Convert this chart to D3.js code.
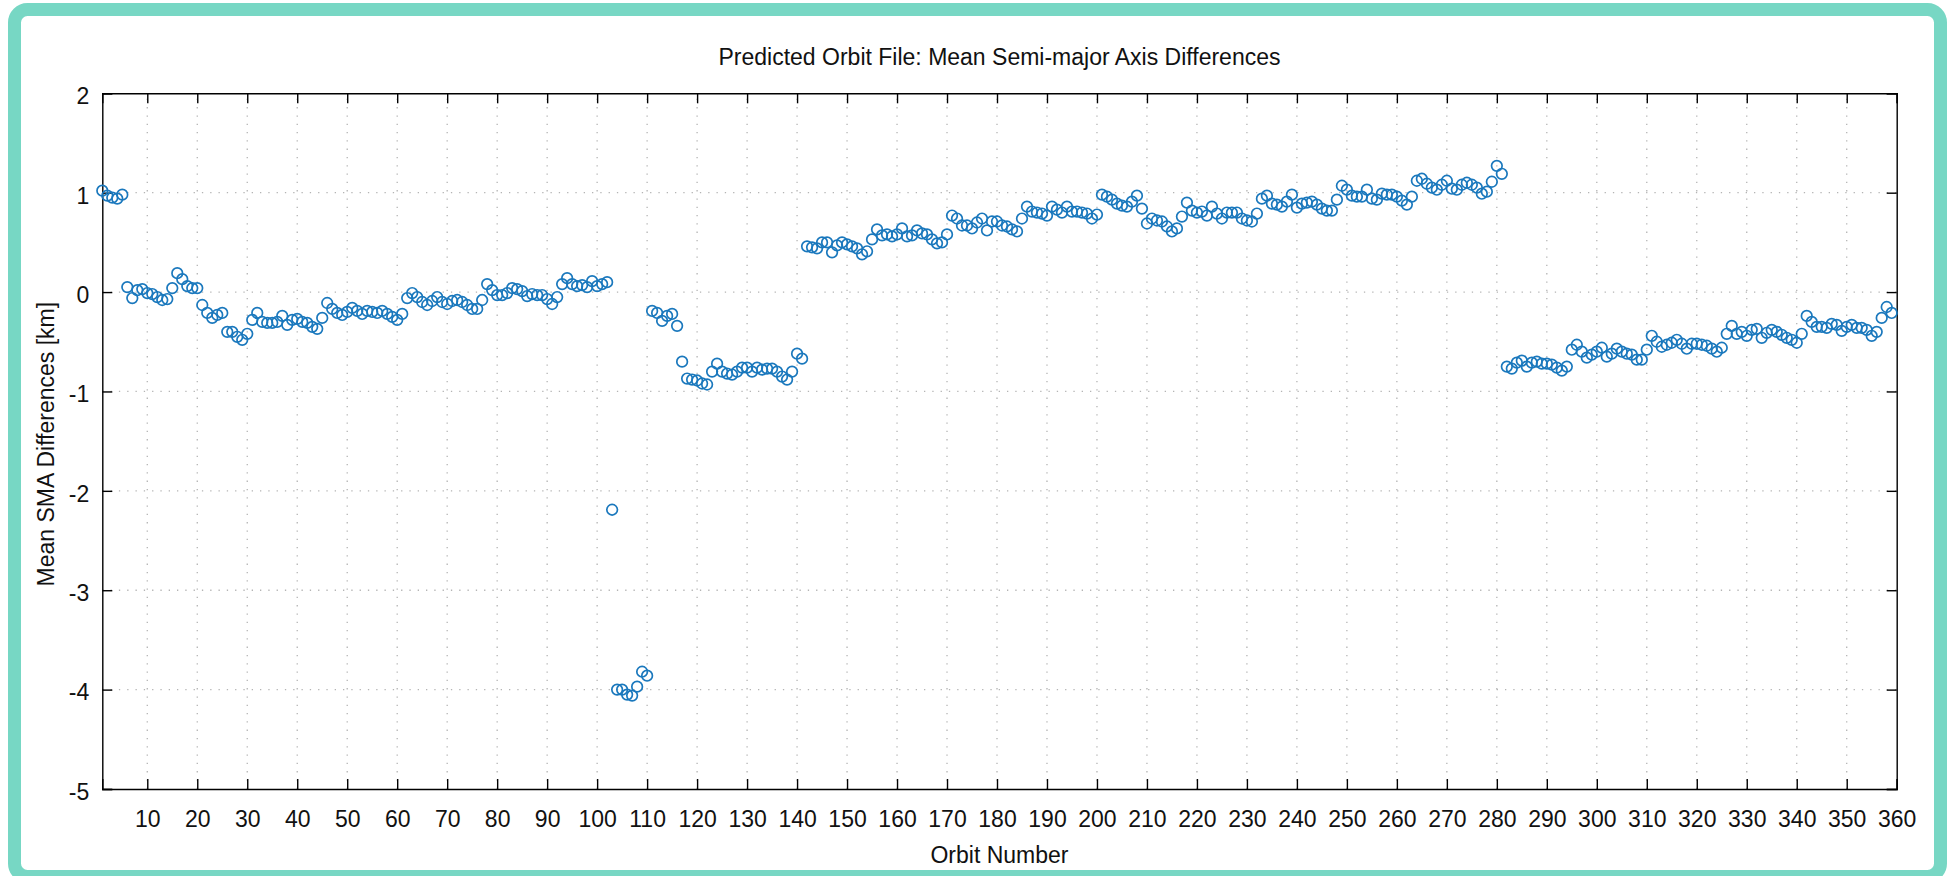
<!DOCTYPE html>
<html>
<head>
<meta charset="utf-8">
<script src="https://cdn.jsdelivr.net/npm/d3@7"></script>
<style>
  html, body { margin: 0; padding: 0; background: #ffffff; }
  svg { display: block; }
  text { font-family: "Liberation Sans", Arial, Helvetica, sans-serif; fill: #111; }
</style>
</head>
<body>
<svg id="chart" width="1949" height="876"></svg>
<script>
// ---- Data ----
const titleText = "Predicted Orbit File: Mean Semi-major Axis Differences";
const xLabelText = "Orbit Number";
const yLabelText = "Mean SMA Differences [km]";

const xTickValues = [10, 20, 30, 40, 50, 60, 70, 80, 90, 100, 110, 120, 130, 140, 150, 160, 170, 180, 190, 200, 210, 220, 230, 240, 250, 260, 270, 280, 290, 300, 310, 320, 330, 340, 350, 360];
const yTickValues = [-5, -4, -3, -2, -1, 0, 1, 2];

// Mean SMA differences [km] per orbit, in consecutive orbit groups
const orbits001to005 = [1.02, 0.97, 0.95, 0.94, 0.98];
const orbits006to102 = [
  0.05, -0.06, 0.02, 0.03, -0.01, -0.02, -0.05, -0.08, -0.07, 0.04,
  0.19, 0.13, 0.06, 0.04, 0.04, -0.13, -0.21, -0.26, -0.23, -0.21,
  -0.40, -0.40, -0.45, -0.48, -0.42, -0.28, -0.21, -0.30, -0.31, -0.31,
  -0.30, -0.24, -0.33, -0.28, -0.27, -0.30, -0.31, -0.35, -0.37, -0.26,
  -0.11, -0.17, -0.21, -0.23, -0.20, -0.16, -0.19, -0.22, -0.19, -0.20,
  -0.21, -0.19, -0.22, -0.25, -0.28, -0.22, -0.06, -0.01, -0.05, -0.10,
  -0.13, -0.09, -0.05, -0.10, -0.12, -0.09, -0.08, -0.10, -0.13, -0.17,
  -0.17, -0.08, 0.08, 0.02, -0.03, -0.03, -0.01, 0.04, 0.03, 0.01,
  -0.04, -0.02, -0.03, -0.03, -0.07, -0.12, -0.05, 0.08, 0.14, 0.08,
  0.06, 0.07, 0.05, 0.11, 0.06, 0.08, 0.10
];
const orbits103to110 = [-2.19, -4.00, -4.00, -4.05, -4.06, -3.97, -3.82, -3.86];
const orbits111to116 = [-0.19, -0.21, -0.29, -0.24, -0.22, -0.34];
const orbits117to141 = [
  -0.70, -0.87, -0.88, -0.89, -0.92, -0.93, -0.80, -0.72, -0.80, -0.82,
  -0.83, -0.80, -0.76, -0.76, -0.80, -0.76, -0.78, -0.77, -0.77, -0.80,
  -0.85, -0.88, -0.80, -0.62, -0.67
];
const orbits142to281 = [
  0.46, 0.45, 0.44, 0.50, 0.50, 0.40, 0.47, 0.50, 0.48, 0.46,
  0.44, 0.38, 0.41, 0.53, 0.63, 0.57, 0.58, 0.56, 0.58, 0.64,
  0.56, 0.57, 0.62, 0.59, 0.58, 0.53, 0.49, 0.50, 0.58, 0.77,
  0.74, 0.67, 0.67, 0.64, 0.70, 0.74, 0.62, 0.71, 0.71, 0.67,
  0.66, 0.63, 0.61, 0.74, 0.86, 0.81, 0.80, 0.79, 0.77, 0.86,
  0.83, 0.80, 0.86, 0.81, 0.81, 0.80, 0.79, 0.74, 0.78, 0.98,
  0.96, 0.93, 0.89, 0.87, 0.86, 0.91, 0.97, 0.84, 0.69, 0.74,
  0.72, 0.71, 0.66, 0.61, 0.64, 0.76, 0.90, 0.82, 0.80, 0.81,
  0.77, 0.86, 0.79, 0.74, 0.80, 0.80, 0.80, 0.74, 0.72, 0.71,
  0.79, 0.94, 0.97, 0.89, 0.88, 0.86, 0.91, 0.98, 0.85, 0.89,
  0.90, 0.91, 0.88, 0.84, 0.82, 0.82, 0.93, 1.07, 1.03, 0.97,
  0.96, 0.96, 1.03, 0.94, 0.93, 0.99, 0.98, 0.98, 0.96, 0.92,
  0.88, 0.96, 1.12, 1.14, 1.09, 1.05, 1.03, 1.08, 1.12, 1.04,
  1.03, 1.08, 1.10, 1.08, 1.05, 0.99, 1.01, 1.11, 1.27, 1.19
];
const orbits282to359 = [
  -0.75, -0.77, -0.71, -0.69, -0.75, -0.71, -0.70, -0.72, -0.72, -0.73,
  -0.76, -0.79, -0.75, -0.58, -0.53, -0.60, -0.66, -0.63, -0.60, -0.56,
  -0.65, -0.62, -0.57, -0.60, -0.62, -0.63, -0.68, -0.68, -0.58, -0.44,
  -0.50, -0.55, -0.53, -0.51, -0.48, -0.52, -0.57, -0.52, -0.52, -0.53,
  -0.54, -0.57, -0.60, -0.56, -0.42, -0.34, -0.42, -0.40, -0.44, -0.38,
  -0.37, -0.46, -0.41, -0.38, -0.40, -0.43, -0.46, -0.48, -0.51, -0.42,
  -0.24, -0.30, -0.35, -0.35, -0.36, -0.32, -0.33, -0.39, -0.35, -0.33,
  -0.36, -0.36, -0.38, -0.44, -0.40, -0.26, -0.15, -0.21
];
const firstOrbit = 1;

const smaValues = [].concat(orbits001to005, orbits006to102, orbits103to110,
  orbits111to116, orbits117to141, orbits142to281, orbits282to359);
const points = smaValues.map((v, i) => ({ orbit: firstOrbit + i, value: v }));

// ---- Layout ----
const svg = d3.select("#chart");
const W = 1949, H = 876;
const plot = { left: 102.3, right: 1896.7, top: 93.3, bottom: 789 };

// Frame
svg.append("rect")
  .attr("x", 0).attr("y", 0).attr("width", W).attr("height", H)
  .attr("fill", "#ffffff");
svg.append("rect")
  .attr("x", 14.5).attr("y", 9.5)
  .attr("width", 1926).attr("height", 867)
  .attr("rx", 13).attr("ry", 13)
  .attr("fill", "#ffffff")
  .attr("stroke", "#77d7c4")
  .attr("stroke-width", 13);

const x = d3.scaleLinear().domain([1, 360]).range([plot.left, plot.right]);
const y = d3.scaleLinear().domain([-5, 2]).range([plot.bottom, plot.top]);

// Grid (dotted)
const grid = svg.append("g").attr("class", "grid");
grid.selectAll("line.vx")
  .data(xTickValues.filter(d => d < 360))
  .join("line")
  .attr("x1", d => x(d)).attr("x2", d => x(d))
  .attr("y1", plot.bottom).attr("y2", plot.top)
  .attr("stroke", "#b4b4b4").attr("stroke-width", 1.3)
  .attr("stroke-dasharray", "1.3,7");
grid.selectAll("line.hy")
  .data(yTickValues.filter(d => d > -5 && d < 2))
  .join("line")
  .attr("x1", plot.left).attr("x2", plot.right)
  .attr("y1", d => y(d)).attr("y2", d => y(d))
  .attr("stroke", "#b4b4b4").attr("stroke-width", 1.3)
  .attr("stroke-dasharray", "1.3,7");

// Axes
const fontSize = 23;
const plainFmt = d => String(d);
const axB = d3.axisBottom(x).tickValues(xTickValues).tickSize(-10).tickPadding(22).tickFormat(plainFmt);
const axT = d3.axisTop(x).tickValues(xTickValues).tickSize(-10).tickFormat("");
const axL = d3.axisLeft(y).tickValues(yTickValues).tickSize(-10).tickPadding(13).tickFormat(plainFmt);
const axR = d3.axisRight(y).tickValues(yTickValues).tickSize(-10).tickFormat("");

function styleAxis(g) {
  g.selectAll("path.domain").attr("stroke", "#000").attr("stroke-width", 1.4);
  g.selectAll(".tick line").attr("stroke", "#000").attr("stroke-width", 1.4);
  g.selectAll("text").attr("font-size", fontSize)
    .attr("font-family", "Liberation Sans, Arial, Helvetica, sans-serif")
    .attr("fill", "#111");
}
svg.append("g").attr("transform", `translate(0,${plot.bottom})`).call(axB).call(styleAxis);
svg.append("g").attr("transform", `translate(0,${plot.top})`).call(axT).call(styleAxis);
const gl = svg.append("g").attr("transform", `translate(${plot.left},0)`).call(axL).call(styleAxis);
gl.selectAll("text").attr("dy", "0.45em");
svg.append("g").attr("transform", `translate(${plot.right},0)`).call(axR).call(styleAxis);

// Markers
svg.append("g").selectAll("circle")
  .data(points)
  .join("circle")
  .attr("cx", d => x(d.orbit))
  .attr("cy", d => y(d.value))
  .attr("r", 5.3)
  .attr("fill", "none")
  .attr("stroke", "#1a78bd")
  .attr("stroke-width", 1.7);

// Titles
svg.append("text")
  .attr("x", (plot.left + plot.right) / 2).attr("y", 65)
  .attr("text-anchor", "middle").attr("font-size", fontSize)
  .text(titleText);
svg.append("text")
  .attr("x", (plot.left + plot.right) / 2).attr("y", 863)
  .attr("text-anchor", "middle").attr("font-size", fontSize)
  .text(xLabelText);
svg.append("text")
  .attr("transform", `translate(54,${(plot.top + plot.bottom) / 2 + 3}) rotate(-90)`)
  .attr("text-anchor", "middle").attr("font-size", fontSize)
  .text(yLabelText);
</script>
</body>
</html>
